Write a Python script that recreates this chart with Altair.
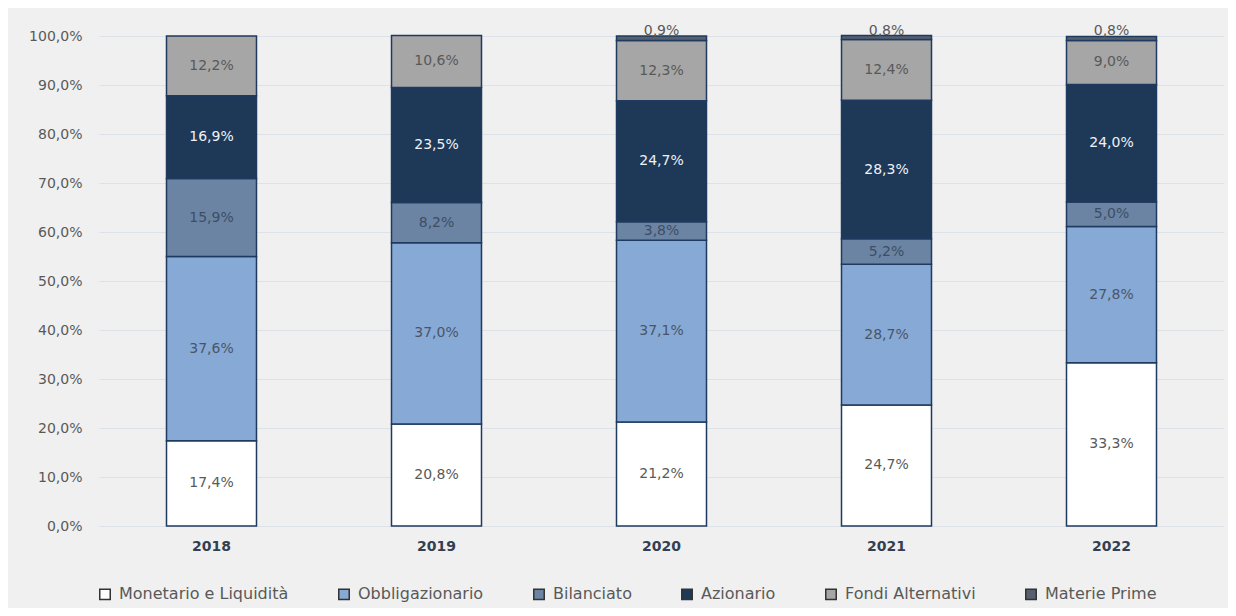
import altair as alt
import pandas as pd

years = ["2018", "2019", "2020", "2021", "2022"]
categories = ["Monetario e Liquidità", "Obbligazionario", "Bilanciato",
              "Azionario", "Fondi Alternativi", "Materie Prime"]
monetario = [17.4, 20.8, 21.2, 24.7, 33.3]
obbligazionario = [37.6, 37.0, 37.1, 28.7, 27.8]
bilanciato = [15.9, 8.2, 3.8, 5.2, 5.0]
azionario = [16.9, 23.5, 24.7, 28.3, 24.0]
fondi_alternativi = [12.2, 10.6, 12.3, 12.4, 9.0]
materie_prime = [0.0, 0.0, 0.9, 0.8, 0.8]

fill_colors = ["#ffffff", "#87a9d6", "#6b84a3", "#1e3857", "#a6a6a6", "#56606e"]
text_colors = ["#595959", "#4a5568", "#3d4e66", "#eef2f7", "#595959", "#595959"]

series = [monetario, obbligazionario, bilanciato, azionario, fondi_alternativi, materie_prime]
rows = []
for ci, (cat, vals) in enumerate(zip(categories, series)):
    for y, v in zip(years, vals):
        if v > 0:
            rows.append({"year": y, "cat": cat, "value": v, "idx": ci, "tc": text_colors[ci]})
df = pd.DataFrame(rows)

FONT = "DejaVu Sans"
pct_expr = "replace(format(datum.value/100, '.1%'), '.', ',')"

base = alt.Chart(df)

x_enc = alt.X("year:N", sort=years, title=None,
              scale=alt.Scale(paddingInner=0.6, paddingOuter=0.3),
              axis=alt.Axis(labelAngle=0, labelFontWeight="bold", labelColor="#333f50",
                            labelFontSize=14, labelFont=FONT, labelPadding=13,
                            ticks=False, domain=False))

bars = base.mark_bar(stroke="#1f3a5f", strokeWidth=1.5).encode(
    x=x_enc,
    y=alt.Y("value:Q", stack="zero", title=None,
            scale=alt.Scale(domain=[0, 100], nice=False),
            axis=alt.Axis(values=list(range(0, 101, 10)), labelExpr=pct_expr,
                          labelColor="#595959", labelFontSize=14, labelFont=FONT,
                          labelPadding=17, ticks=False, domain=False,
                          gridColor="#dde2e8", gridWidth=1)),
    color=alt.Color("cat:N", sort=categories,
                    scale=alt.Scale(domain=categories, range=fill_colors),
                    legend=alt.Legend(title=None, orient="none", direction="horizontal",
                                      legendX=-2, legendY=550, symbolType="square",
                                      symbolSize=110, symbolStrokeColor="#333333",
                                      symbolStrokeWidth=1.5, labelFontSize=16,
                                      labelFont=FONT, labelColor="#595959",
                                      labelLimit=400, columnPadding=46,
                                      symbolOffset=0, labelOffset=6)),
    order=alt.Order("idx:Q", sort="ascending"),
)

labels = base.transform_stack(
    stack="value", groupby=["year"],
    sort=[alt.SortField("idx", order="ascending")], as_=["y0", "y1"]
).transform_calculate(
    mid="datum.idx == 5 ? 101 : (datum.y0 + datum.y1) / 2",
    label=pct_expr,
).mark_text(fontSize=14, font=FONT, baseline="middle").encode(
    x=alt.X("year:N", sort=years),
    y=alt.Y("mid:Q"),
    text="label:N",
    color=alt.Color("tc:N", scale=None),
)

chart = alt.layer(bars, labels).properties(
    width=1125, height=490,
    autosize=alt.AutoSizeParams(type="none"),
    padding={"left": 91, "top": 28, "right": 4, "bottom": 82},
    background="#f0f0f0",
).configure_view(stroke=None)

chart.save("out.html", embed_options={"renderer": "svg", "actions": False})
